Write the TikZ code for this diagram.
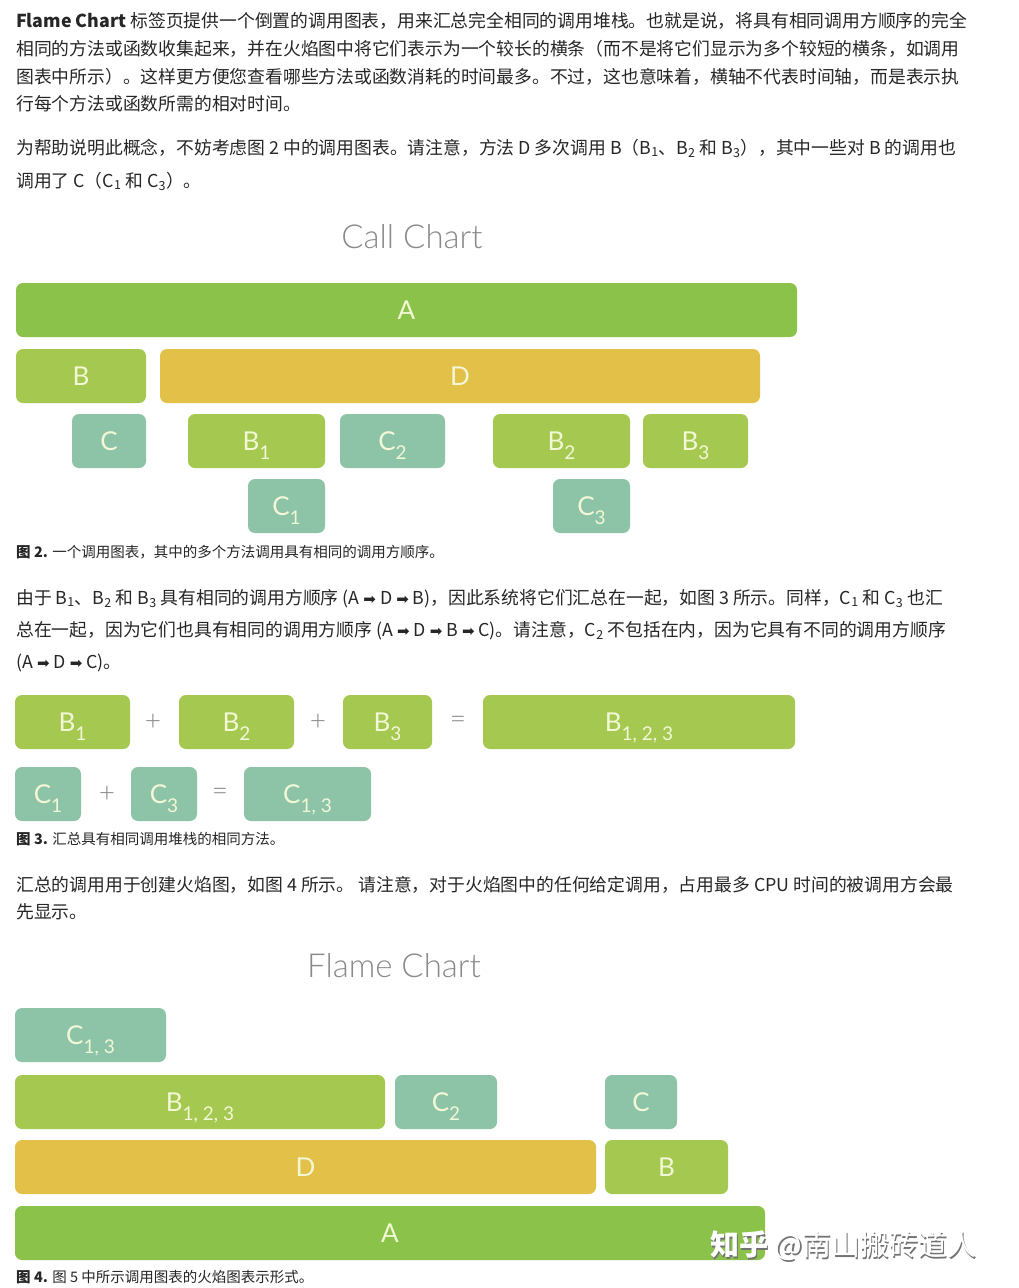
\documentclass[tikz,border=0pt]{standalone}
\usepackage{fontspec}
\setmainfont{Noto Sans CJK SC}
\newfontfamily\thinfont{Lato}[UprightFont=* Light]
\newfontfamily\labelfont{Lato}
\newfontfamily\symfont{DejaVu Sans}
\usetikzlibrary{positioning}
\definecolor{BarA}{HTML}{8BC34A}
\definecolor{BarB}{HTML}{A5C850}
\definecolor{BarC}{HTML}{8DC3A7}
\definecolor{BarD}{HTML}{E3C048}
\definecolor{BarText}{HTML}{F2F8D6}
\definecolor{TitleGray}{HTML}{8A8A8A}
\definecolor{BodyText}{HTML}{262626}
\newcommand\idx[1]{\smash{\raisebox{-9pt}{\fontsize{19}{19}\selectfont #1}}}
\newcommand\low[1]{\textsubscript{#1}}
\newcommand\arr{{\symfont\fontsize{15}{15}\selectfont ➡}}
% one bar: name, style, left x, right x, top y, label
\newcommand\callbar[6]{\node[#2, minimum width={#4-#3}] (#1) at ({(#3+#4)/2},{#5+27}) {#6};}
\tikzset{
  bar/.style={rounded corners=7pt, text=BarText, inner sep=0pt,
    minimum height=54pt, font=\labelfont\fontsize{26}{26}\selectfont},
  abar/.style={bar, fill=BarA},
  bbar/.style={bar, fill=BarB},
  cbar/.style={bar, fill=BarC},
  dbar/.style={bar, fill=BarD},
  body/.style={anchor=base west, inner sep=0pt, text=BodyText,
    font=\fontsize{17.8}{28}\selectfont},
  caption/.style={body, font=\fontsize{14.5}{18}\selectfont},
  charttitle/.style={anchor=base, inner sep=0pt, text=TitleGray,
    font=\thinfont\fontsize{33}{33}\selectfont},
  op/.style={inner sep=0pt, text=TitleGray, font=\thinfont\fontsize{28}{28}\selectfont},
  watermark/.style={anchor=west, inner sep=0pt, font=\fontsize{29}{29}\selectfont},
}
\begin{document}
\begin{tikzpicture}[x=1pt, y=-1pt]
  \useasboundingbox[fill=white] (0,0) rectangle (1018,1288);

  % text before the call chart
  \node[body] (p1a) at (16,27) {\textbf{Flame Chart} 标签页提供一个倒置的调用图表，用来汇总完全相同的调用堆栈。也就是说，将具有相同调用方顺序的完全};
  \node[body] (p1b) at (16,55) {相同的方法或函数收集起来，并在火焰图中将它们表示为一个较长的横条（而不是将它们显示为多个较短的横条，如调用};
  \node[body] (p1c) at (16,83) {图表中所示）。这样更方便您查看哪些方法或函数消耗的时间最多。不过，这也意味着，横轴不代表时间轴，而是表示执};
  \node[body] (p1d) at (16,110) {行每个方法或函数所需的相对时间。};
  \node[body] (p2a) at (16,154) {为帮助说明此概念，不妨考虑图 2 中的调用图表。请注意，方法 D 多次调用 B（B\low{1}、B\low{2} 和 B\low{3}），其中一些对 B 的调用也};
  \node[body] (p2b) at (16,187) {调用了 C（C\low{1} 和 C\low{3}）。};

  % call chart
  \node[charttitle] (calltitle) at (412,248) {Call Chart};
  \callbar{cA}{abar}{16}{797}{283}{A}
  \callbar{cB}{bbar}{16}{146}{349}{B}
  \callbar{cD}{dbar}{160}{760}{349}{D}
  \callbar{cC}{cbar}{72}{146}{414}{C}
  \callbar{cB1}{bbar}{188}{325}{414}{B\idx{1}}
  \callbar{cC2}{cbar}{340}{445}{414}{C\idx{2}}
  \callbar{cB2}{bbar}{493}{630}{414}{B\idx{2}}
  \callbar{cB3}{bbar}{643}{748}{414}{B\idx{3}}
  \callbar{cC1}{cbar}{248}{325}{479}{C\idx{1}}
  \callbar{cC3}{cbar}{553}{630}{479}{C\idx{3}}
  \node[caption] (cap2) at (16,557) {\textbf{图 2.} 一个调用图表，其中的多个方法调用具有相同的调用方顺序。};

  \node[body] (p3a) at (16,604) {由于 B\low{1}、B\low{2} 和 B\low{3} 具有相同的调用方顺序 (A \arr{} D \arr{} B)，因此系统将它们汇总在一起，如图 3 所示。同样，C\low{1} 和 C\low{3} 也汇};
  \node[body] (p3b) at (16,636) {总在一起，因为它们也具有相同的调用方顺序 (A \arr{} D \arr{} B \arr{} C)。请注意，C\low{2} 不包括在内，因为它具有不同的调用方顺序};
  \node[body] (p3c) at (16,668) {(A \arr{} D \arr{} C)。};

  % merging
  \callbar{mB1}{bbar}{15}{130}{695}{B\idx{1}}
  \callbar{mB2}{bbar}{179}{294}{695}{B\idx{2}}
  \callbar{mB3}{bbar}{343}{432}{695}{B\idx{3}}
  \callbar{mB}{bbar}{483}{795}{695}{B\idx{1, 2, 3}}
  \node[op] (plus1) at (153,722) {+};
  \node[op] (plus2) at (318,722) {+};
  \node[op] (eq1) at (458,722) {=};
  \callbar{mC1}{cbar}{15}{81}{767}{C\idx{1}}
  \callbar{mC3}{cbar}{131}{197}{767}{C\idx{3}}
  \callbar{mC}{cbar}{244}{371}{767}{C\idx{1, 3}}
  \node[op] (plus3) at (107,794) {+};
  \node[op] (eq2) at (220,794) {=};
  \node[caption] (cap3) at (16,844) {\textbf{图 3.} 汇总具有相同调用堆栈的相同方法。};

  \node[body] (p4a) at (16,891) {汇总的调用用于创建火焰图，如图 4 所示。 请注意，对于火焰图中的任何给定调用，占用最多 CPU 时间的被调用方会最};
  \node[body] (p4b) at (16,918) {先显示。};

  % flame chart
  \node[charttitle] (flametitle) at (394,977) {Flame Chart};
  \callbar{fC}{cbar}{15}{166}{1008}{C\idx{1, 3}}
  \callbar{fB}{bbar}{15}{385}{1075}{B\idx{1, 2, 3}}
  \callbar{fC2}{cbar}{395}{497}{1075}{C\idx{2}}
  \callbar{fCx}{cbar}{605}{677}{1075}{C}
  \callbar{fD}{dbar}{15}{596}{1140}{D}
  \callbar{fBx}{bbar}{605}{728}{1140}{B}
  \callbar{fA}{abar}{15}{765}{1206}{A}
  \node[caption] (cap4) at (16,1282) {\textbf{图 4.} 图 5 中所示调用图表的火焰图表示形式。};

  % watermark
  \node[watermark, text=black!55] (wmshadow) at (711.5,1247.5) {\textbf{知乎} @南山搬砖道人};
  \node[watermark, text=white] (wm) at (710,1246) {\textbf{知乎} @南山搬砖道人};
\end{tikzpicture}
\end{document}
